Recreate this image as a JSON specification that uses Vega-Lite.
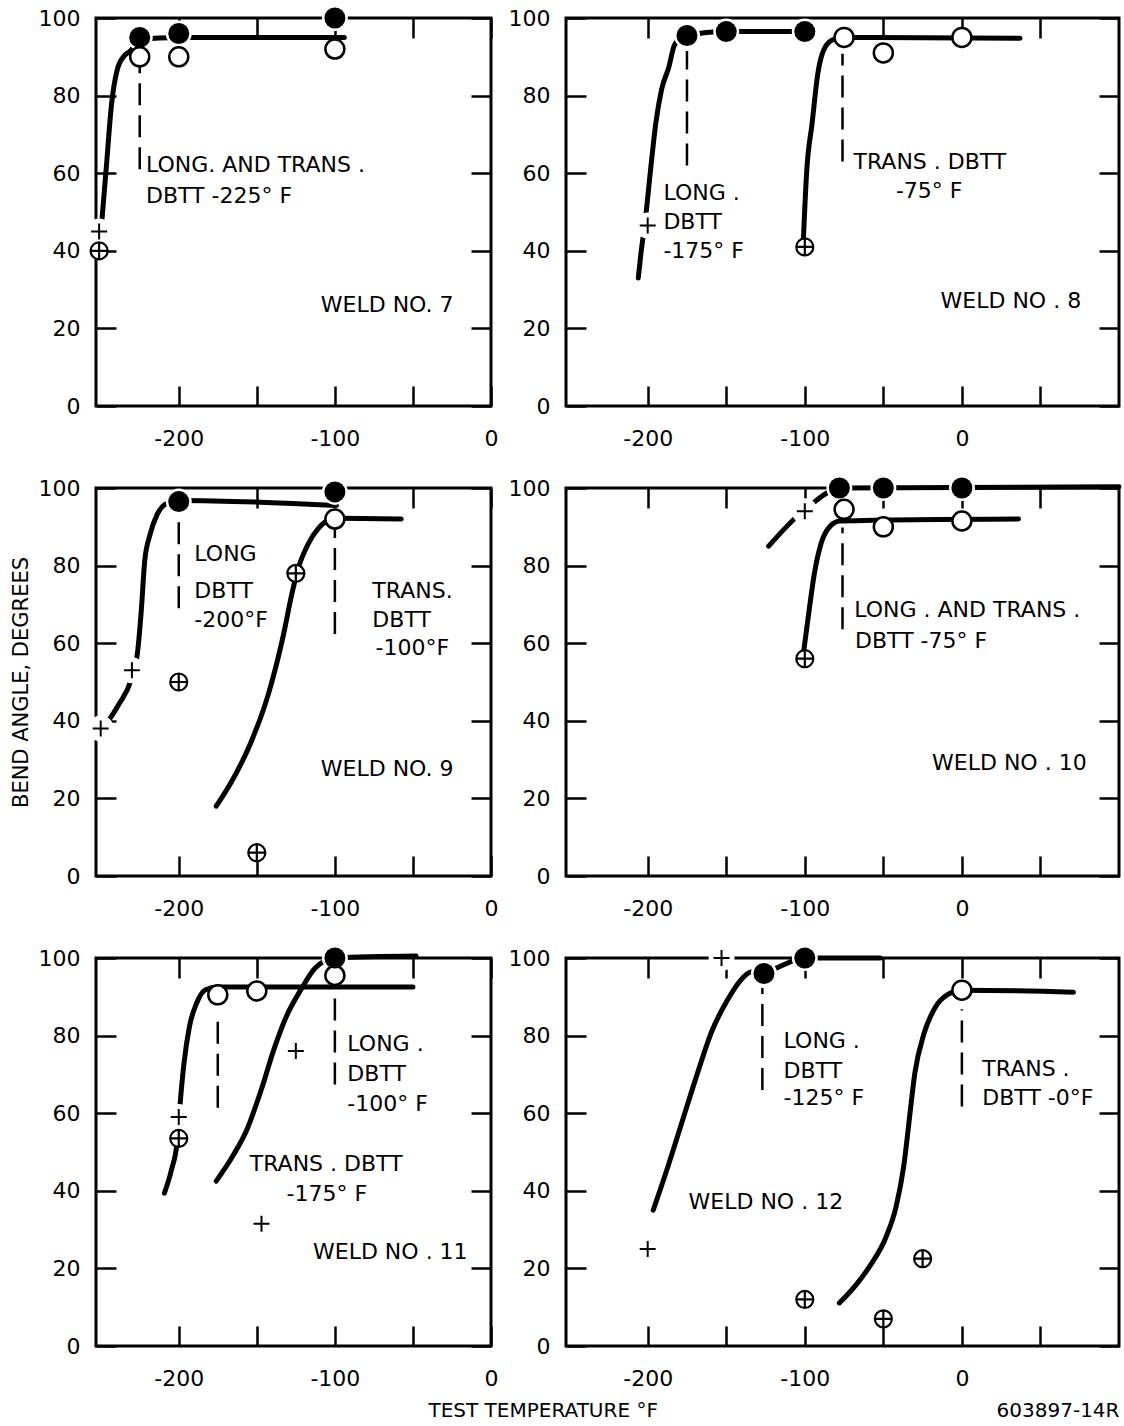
{
"$schema": "https://vega.github.io/schema/vega-lite/v6.json",
"padding": {"left": 8, "top": 3, "right": 0, "bottom": 0},
"config": {
 "view": {"stroke": "black", "strokeWidth": 3},
 "font": "DejaVu Sans",
 "axis": {"domain": false, "grid": false, "tickSize": -20, "tickWidth": 2.5, "tickColor": "black", "labelFont": "DejaVu Sans", "labelFontSize": 22, "labelColor": "black", "labelFlush": false, "labelOverlap": false, "titleFont": "DejaVu Sans", "titleFontSize": 21, "titleFontWeight": "normal", "titleColor": "black"},
 "axisBottom": {"labelPadding": 42},
 "axisLeft": {"labelPadding": 36}
},
"datasets": {
 "pts": [
  {"w":7,"k":"filled","t":-225,"a":95},{"w":7,"k":"filled","t":-200,"a":96},{"w":7,"k":"filled","t":-100,"a":100},
  {"w":7,"k":"open","t":-225,"a":90},{"w":7,"k":"open","t":-200,"a":90},{"w":7,"k":"open","t":-100,"a":92},
  {"w":7,"k":"plus","t":-251,"a":45},{"w":7,"k":"oplus","t":-251,"a":40},
  {"w":8,"k":"filled","t":-175,"a":95.5},{"w":8,"k":"filled","t":-150,"a":96.5},{"w":8,"k":"filled","t":-100,"a":96.5},
  {"w":8,"k":"open","t":-75,"a":95},{"w":8,"k":"open","t":-50,"a":91},{"w":8,"k":"open","t":0,"a":95},
  {"w":8,"k":"plus","t":-200,"a":46.5},{"w":8,"k":"oplus","t":-100,"a":41},
  {"w":9,"k":"filled","t":-200,"a":96.5},{"w":9,"k":"filled","t":-100,"a":99},
  {"w":9,"k":"open","t":-100,"a":92},
  {"w":9,"k":"plus","t":-250,"a":38},{"w":9,"k":"plus","t":-230,"a":53},
  {"w":9,"k":"oplus","t":-200,"a":50},{"w":9,"k":"oplus","t":-150,"a":6},{"w":9,"k":"oplus","t":-125,"a":78},
  {"w":10,"k":"filled","t":-78,"a":100},{"w":10,"k":"filled","t":-50,"a":100},{"w":10,"k":"filled","t":0,"a":100},
  {"w":10,"k":"open","t":-75,"a":94.5},{"w":10,"k":"open","t":-50,"a":90},{"w":10,"k":"open","t":0,"a":91.5},
  {"w":10,"k":"plus","t":-100,"a":94},{"w":10,"k":"oplus","t":-100,"a":56},
  {"w":11,"k":"filled","t":-100,"a":100},
  {"w":11,"k":"open","t":-175,"a":90.5},{"w":11,"k":"open","t":-150,"a":91.5},{"w":11,"k":"open","t":-100,"a":95.5},
  {"w":11,"k":"plus","t":-200,"a":59},{"w":11,"k":"plus","t":-125,"a":76},{"w":11,"k":"plus","t":-147,"a":31.5},
  {"w":11,"k":"oplus","t":-200,"a":53.5},
  {"w":12,"k":"filled","t":-126,"a":96},{"w":12,"k":"filled","t":-100,"a":100},
  {"w":12,"k":"open","t":0,"a":91.7},
  {"w":12,"k":"plus","t":-153,"a":100},{"w":12,"k":"plus","t":-200,"a":25},
  {"w":12,"k":"oplus","t":-100,"a":12},{"w":12,"k":"oplus","t":-50,"a":7},{"w":12,"k":"oplus","t":-25,"a":22.5}
 ],
 "crv": [
  {"w":7,"c":"L","t":-249.5,"a":46.5},{"w":7,"c":"L","t":-246.5,"a":61},{"w":7,"c":"L","t":-243,"a":78},{"w":7,"c":"L","t":-239.5,"a":86.5},{"w":7,"c":"L","t":-235,"a":90.2},{"w":7,"c":"L","t":-231,"a":91.5},{"w":7,"c":"L","t":-225,"a":94.5},{"w":7,"c":"L","t":-200,"a":95},{"w":7,"c":"L","t":-94,"a":95},
  {"w":8,"c":"L","t":-206,"a":33},{"w":8,"c":"L","t":-204.3,"a":39.3},{"w":8,"c":"L","t":-201.5,"a":48},{"w":8,"c":"L","t":-198.3,"a":60.4},{"w":8,"c":"L","t":-194.8,"a":73},{"w":8,"c":"L","t":-191.2,"a":81.5},{"w":8,"c":"L","t":-186.5,"a":87.4},{"w":8,"c":"L","t":-183,"a":93},{"w":8,"c":"L","t":-178,"a":95},{"w":8,"c":"L","t":-175,"a":95.5},{"w":8,"c":"L","t":-150,"a":96.5},{"w":8,"c":"L","t":-100,"a":96.5},
  {"w":8,"c":"T","t":-101,"a":42},{"w":8,"c":"T","t":-98.8,"a":60.4},{"w":8,"c":"T","t":-95.3,"a":73},{"w":8,"c":"T","t":-91.7,"a":85.7},{"w":8,"c":"T","t":-87,"a":92.5},{"w":8,"c":"T","t":-81,"a":94.6},{"w":8,"c":"T","t":-75,"a":95},{"w":8,"c":"T","t":37,"a":94.8},
  {"w":9,"c":"L","t":-250,"a":37.8},{"w":9,"c":"L","t":-246,"a":39.5},{"w":9,"c":"L","t":-238,"a":44.5},{"w":9,"c":"L","t":-231,"a":50},{"w":9,"c":"L","t":-226.5,"a":57.3},{"w":9,"c":"L","t":-224,"a":68.4},{"w":9,"c":"L","t":-221.8,"a":81.2},{"w":9,"c":"L","t":-218.4,"a":88},{"w":9,"c":"L","t":-213.8,"a":93.2},{"w":9,"c":"L","t":-209,"a":95.7},{"w":9,"c":"L","t":-200,"a":96.8},{"w":9,"c":"L","t":-99,"a":95.5},
  {"w":9,"c":"T","t":-176,"a":18},{"w":9,"c":"T","t":-165.5,"a":24.8},{"w":9,"c":"T","t":-154,"a":34.2},{"w":9,"c":"T","t":-142.5,"a":47},{"w":9,"c":"T","t":-133.3,"a":61.5},{"w":9,"c":"T","t":-127.6,"a":72.6},{"w":9,"c":"T","t":-124,"a":78.6},{"w":9,"c":"T","t":-117.2,"a":85.5},{"w":9,"c":"T","t":-110.3,"a":89.7},{"w":9,"c":"T","t":-103.4,"a":91.9},{"w":9,"c":"T","t":-100,"a":92.2},{"w":9,"c":"T","t":-57.5,"a":92},
  {"w":10,"c":"L","t":-123,"a":85},{"w":10,"c":"L","t":-105.7,"a":92.4},{"w":10,"c":"L","t":-96.5,"a":95.5},{"w":10,"c":"L","t":-86,"a":98.7},{"w":10,"c":"L","t":-78,"a":100},{"w":10,"c":"L","t":100,"a":100.3},
  {"w":10,"c":"T","t":-101,"a":57},{"w":10,"c":"T","t":-97.6,"a":67.4},{"w":10,"c":"T","t":-94.1,"a":77.5},{"w":10,"c":"T","t":-89.4,"a":86},{"w":10,"c":"T","t":-83.5,"a":90.3},{"w":10,"c":"T","t":-77.6,"a":91.5},{"w":10,"c":"T","t":36,"a":92},
  {"w":11,"c":"T","t":-209.2,"a":39.4},{"w":11,"c":"T","t":-204.6,"a":45.5},{"w":11,"c":"T","t":-201.1,"a":52.4},{"w":11,"c":"T","t":-198.9,"a":63.5},{"w":11,"c":"T","t":-196.6,"a":73},{"w":11,"c":"T","t":-193.1,"a":82.4},{"w":11,"c":"T","t":-188.5,"a":88.4},{"w":11,"c":"T","t":-182.8,"a":91.8},{"w":11,"c":"T","t":-175,"a":92.5},{"w":11,"c":"T","t":-50,"a":92.5},
  {"w":11,"c":"L","t":-176,"a":42.5},{"w":11,"c":"L","t":-165.5,"a":48.9},{"w":11,"c":"L","t":-156.3,"a":55.8},{"w":11,"c":"L","t":-147.1,"a":66.1},{"w":11,"c":"L","t":-139.1,"a":76.4},{"w":11,"c":"L","t":-131,"a":85},{"w":11,"c":"L","t":-121.8,"a":91.8},{"w":11,"c":"L","t":-112.6,"a":97.4},{"w":11,"c":"L","t":-100,"a":100},{"w":11,"c":"L","t":-48,"a":100.5},
  {"w":12,"c":"L","t":-196.5,"a":35},{"w":12,"c":"L","t":-187,"a":46.4},{"w":12,"c":"L","t":-177.7,"a":58.3},{"w":12,"c":"L","t":-168.4,"a":70.2},{"w":12,"c":"L","t":-159,"a":81.3},{"w":12,"c":"L","t":-149.6,"a":88.9},{"w":12,"c":"L","t":-141.4,"a":94},{"w":12,"c":"L","t":-134.3,"a":96.4},{"w":12,"c":"L","t":-126,"a":96.5},{"w":12,"c":"L","t":-100,"a":100},{"w":12,"c":"L","t":-52,"a":100},
  {"w":12,"c":"T","t":-78,"a":11.1},{"w":12,"c":"T","t":-67.5,"a":15.7},{"w":12,"c":"T","t":-58.1,"a":20.9},{"w":12,"c":"T","t":-48.7,"a":27.7},{"w":12,"c":"T","t":-41.7,"a":36.2},{"w":12,"c":"T","t":-37,"a":46.4},{"w":12,"c":"T","t":-33.5,"a":58.3},{"w":12,"c":"T","t":-30,"a":70.2},{"w":12,"c":"T","t":-24.2,"a":80.4},{"w":12,"c":"T","t":-17.1,"a":87.2},{"w":12,"c":"T","t":-8.9,"a":90.6},{"w":12,"c":"T","t":0,"a":91.7},{"w":12,"c":"T","t":71,"a":91.2}
 ],
 "dbtt": [
  {"w":7,"t":-225,"a":61,"a2":88},
  {"w":8,"t":-175,"a":62,"a2":91.5},{"w":8,"t":-76,"a":63,"a2":90.8},
  {"w":9,"t":-200,"a":69,"a2":94},{"w":9,"t":-100,"a":62.4,"a2":89.7},
  {"w":10,"t":-76,"a":63.6,"a2":89.8},
  {"w":11,"t":-175,"a":61.4,"a2":85.8},{"w":11,"t":-100,"a":67.4,"a2":91},
  {"w":12,"t":-127,"a":66,"a2":92.3},{"w":12,"t":0,"a":61.7,"a2":86.8}
 ],
 "lbl": [
  {"w":7,"t":-221,"a":62,"s":"LONG. AND TRANS ."},{"w":7,"t":-221,"a":54,"s":"DBTT  -225° F"},{"w":7,"t":-109,"a":26,"s":"WELD NO. 7"},
  {"w":8,"t":-190,"a":55,"s":"LONG ."},{"w":8,"t":-190,"a":47.5,"s":"DBTT"},{"w":8,"t":-190,"a":40,"s":"-175° F"},{"w":8,"t":-69,"a":63,"s":"TRANS . DBTT"},{"w":8,"t":-42,"a":55.5,"s":"-75° F"},{"w":8,"t":-13.6,"a":27,"s":"WELD NO . 8"},
  {"w":9,"t":-190,"a":83,"s":"LONG"},{"w":9,"t":-190,"a":73.5,"s":"DBTT"},{"w":9,"t":-190,"a":66,"s":"-200°F"},{"w":9,"t":-76,"a":73.5,"s":"TRANS."},{"w":9,"t":-76,"a":66,"s":"DBTT"},{"w":9,"t":-74,"a":58.7,"s":"-100°F"},{"w":9,"t":-109,"a":27.6,"s":"WELD NO. 9"},
  {"w":10,"t":-68.5,"a":68.5,"s":"LONG . AND TRANS ."},{"w":10,"t":-68,"a":60.5,"s":"DBTT -75° F"},{"w":10,"t":-19,"a":29,"s":"WELD NO . 10"},
  {"w":11,"t":-92,"a":77.8,"s":"LONG ."},{"w":11,"t":-92,"a":70,"s":"DBTT"},{"w":11,"t":-92,"a":62.3,"s":"-100° F"},{"w":11,"t":-154.5,"a":47,"s":"TRANS . DBTT"},{"w":11,"t":-131,"a":39.3,"s":"-175° F"},{"w":11,"t":-114,"a":24.3,"s":"WELD NO . 11"},
  {"w":12,"t":-113.5,"a":78.5,"s":"LONG ."},{"w":12,"t":-113.5,"a":71,"s":"DBTT"},{"w":12,"t":-113.5,"a":63.8,"s":"-125° F"},{"w":12,"t":13,"a":71.5,"s":"TRANS ."},{"w":12,"t":13,"a":63.8,"s":"DBTT -0°F"},{"w":12,"t":-174,"a":37,"s":"WELD NO . 12"}
 ]
},
"bounds": "flush",
"columns": 2,
"spacing": {"row": 82, "column": 75},
"concat": [
 {"width": 395, "height": 388,
  "encoding": {"x": {"field":"t","type":"quantitative","scale":{"domain":[-253,0],"nice":false,"zero":false},"axis":null},
               "y": {"field":"a","type":"quantitative","scale":{"domain":[0,100],"nice":false,"zero":false},"axis":null}},
  "layer": [
   {"data":{"name":"crv"},"transform":[{"filter":"datum.w==7"}],
    "mark":{"type":"line","color":"black","strokeWidth":5,"strokeCap":"round","strokeJoin":"round","interpolate":"monotone"},
    "encoding":{"x":{"field":"t","type":"quantitative","scale":{"domain":[-253,0],"nice":false,"zero":false},"axis":{"orient":"bottom","values":[-200,-150,-100,-50,0],"labelExpr":"datum.value % 100 == 0 ? '' + datum.value : ''","title":null}},
                "y":{"field":"a","type":"quantitative","scale":{"domain":[0,100],"nice":false,"zero":false},"axis":{"orient":"left","values":[0,20,40,60,80,100],"title":null}},
                "detail":{"field":"c"}}},
   {"data":{"name":"dbtt"},"transform":[{"filter":"datum.w==7"}],
    "mark":{"type":"rule","color":"black","strokeWidth":2.5,"strokeDash":[22,10]},
    "encoding":{"x":{"field":"t","type":"quantitative","scale":{"domain":[-253,0],"nice":false,"zero":false},"axis":{"orient":"top","values":[-200,-150,-100,-50,0],"labels":false,"title":null}},
                "y":{"field":"a","type":"quantitative","scale":{"domain":[0,100],"nice":false,"zero":false},"axis":{"orient":"right","values":[0,20,40,60,80,100],"labels":false,"title":null}},
                "y2":{"field":"a2"}}},
   {"data":{"name":"pts"},"transform":[{"filter":"datum.w==7 && (datum.k=='filled' || datum.k=='plus')"}],"mark":{"type":"circle","size":676,"color":"white","opacity":1}},
   {"data":{"name":"pts"},"transform":[{"filter":"datum.w==7 && datum.k=='open'"}],"mark":{"type":"circle","size":361,"fill":"white","stroke":"black","strokeWidth":2.5,"opacity":1}},
   {"data":{"name":"pts"},"transform":[{"filter":"datum.w==7 && datum.k=='filled'"}],"mark":{"type":"circle","size":441,"color":"black","opacity":1}},
   {"data":{"name":"pts"},"transform":[{"filter":"datum.w==7 && datum.k=='plus'"}],"mark":{"type":"point","shape":"M-1,0L1,0M0,-1L0,1","size":256,"filled":false,"stroke":"black","strokeWidth":2,"opacity":1}},
   {"data":{"name":"pts"},"transform":[{"filter":"datum.w==7 && datum.k=='oplus'"}],"mark":{"type":"point","shape":"M-1,0A1,1,0,1,0,1,0A1,1,0,1,0,-1,0M-1,0L1,0M0,-1L0,1","size":289,"filled":false,"fill":"white","stroke":"black","strokeWidth":2.2,"opacity":1}},
   {"data":{"name":"lbl"},"transform":[{"filter":"datum.w==7"}],"mark":{"type":"text","align":"left","baseline":"middle","font":"DejaVu Sans","fontSize":22,"color":"black"},"encoding":{"text":{"field":"s"}}}
  ],
  "resolve":{"axis":{"x":"independent","y":"independent"}}},
 {"width": 553, "height": 388,
  "encoding": {"x": {"field":"t","type":"quantitative","scale":{"domain":[-252,100],"nice":false,"zero":false},"axis":null},
               "y": {"field":"a","type":"quantitative","scale":{"domain":[0,100],"nice":false,"zero":false},"axis":null}},
  "layer": [
   {"data":{"name":"crv"},"transform":[{"filter":"datum.w==8"}],
    "mark":{"type":"line","color":"black","strokeWidth":5,"strokeCap":"round","strokeJoin":"round","interpolate":"monotone"},
    "encoding":{"x":{"field":"t","type":"quantitative","scale":{"domain":[-252,100],"nice":false,"zero":false},"axis":{"orient":"bottom","values":[-200,-150,-100,-50,0,50],"labelExpr":"datum.value % 100 == 0 ? '' + datum.value : ''","title":null}},
                "y":{"field":"a","type":"quantitative","scale":{"domain":[0,100],"nice":false,"zero":false},"axis":{"orient":"left","values":[0,20,40,60,80,100],"title":null}},
                "detail":{"field":"c"}}},
   {"data":{"name":"dbtt"},"transform":[{"filter":"datum.w==8"}],
    "mark":{"type":"rule","color":"black","strokeWidth":2.5,"strokeDash":[22,10]},
    "encoding":{"x":{"field":"t","type":"quantitative","scale":{"domain":[-252,100],"nice":false,"zero":false},"axis":{"orient":"top","values":[-200,-150,-100,-50,0,50],"labels":false,"title":null}},
                "y":{"field":"a","type":"quantitative","scale":{"domain":[0,100],"nice":false,"zero":false},"axis":{"orient":"right","values":[0,20,40,60,80,100],"labels":false,"title":null}},
                "y2":{"field":"a2"}}},
   {"data":{"name":"pts"},"transform":[{"filter":"datum.w==8 && (datum.k=='filled' || datum.k=='plus')"}],"mark":{"type":"circle","size":676,"color":"white","opacity":1}},
   {"data":{"name":"pts"},"transform":[{"filter":"datum.w==8 && datum.k=='open'"}],"mark":{"type":"circle","size":361,"fill":"white","stroke":"black","strokeWidth":2.5,"opacity":1}},
   {"data":{"name":"pts"},"transform":[{"filter":"datum.w==8 && datum.k=='filled'"}],"mark":{"type":"circle","size":441,"color":"black","opacity":1}},
   {"data":{"name":"pts"},"transform":[{"filter":"datum.w==8 && datum.k=='plus'"}],"mark":{"type":"point","shape":"M-1,0L1,0M0,-1L0,1","size":256,"filled":false,"stroke":"black","strokeWidth":2,"opacity":1}},
   {"data":{"name":"pts"},"transform":[{"filter":"datum.w==8 && datum.k=='oplus'"}],"mark":{"type":"point","shape":"M-1,0A1,1,0,1,0,1,0A1,1,0,1,0,-1,0M-1,0L1,0M0,-1L0,1","size":289,"filled":false,"fill":"white","stroke":"black","strokeWidth":2.2,"opacity":1}},
   {"data":{"name":"lbl"},"transform":[{"filter":"datum.w==8"}],"mark":{"type":"text","align":"left","baseline":"middle","font":"DejaVu Sans","fontSize":22,"color":"black"},"encoding":{"text":{"field":"s"}}}
  ],
  "resolve":{"axis":{"x":"independent","y":"independent"}}},
 {"width": 395, "height": 388,
  "encoding": {"x": {"field":"t","type":"quantitative","scale":{"domain":[-253,0],"nice":false,"zero":false},"axis":null},
               "y": {"field":"a","type":"quantitative","scale":{"domain":[0,100],"nice":false,"zero":false},"axis":null}},
  "layer": [
   {"data":{"name":"crv"},"transform":[{"filter":"datum.w==9"}],
    "mark":{"type":"line","color":"black","strokeWidth":5,"strokeCap":"round","strokeJoin":"round","interpolate":"monotone"},
    "encoding":{"x":{"field":"t","type":"quantitative","scale":{"domain":[-253,0],"nice":false,"zero":false},"axis":{"orient":"bottom","values":[-200,-150,-100,-50,0],"labelExpr":"datum.value % 100 == 0 ? '' + datum.value : ''","title":null}},
                "y":{"field":"a","type":"quantitative","scale":{"domain":[0,100],"nice":false,"zero":false},"axis":{"orient":"left","values":[0,20,40,60,80,100],"title":"BEND ANGLE, DEGREES","titlePadding":7}},
                "detail":{"field":"c"}}},
   {"data":{"name":"dbtt"},"transform":[{"filter":"datum.w==9"}],
    "mark":{"type":"rule","color":"black","strokeWidth":2.5,"strokeDash":[22,10]},
    "encoding":{"x":{"field":"t","type":"quantitative","scale":{"domain":[-253,0],"nice":false,"zero":false},"axis":{"orient":"top","values":[-200,-150,-100,-50,0],"labels":false,"title":null}},
                "y":{"field":"a","type":"quantitative","scale":{"domain":[0,100],"nice":false,"zero":false},"axis":{"orient":"right","values":[0,20,40,60,80,100],"labels":false,"title":null}},
                "y2":{"field":"a2"}}},
   {"data":{"name":"pts"},"transform":[{"filter":"datum.w==9 && (datum.k=='filled' || datum.k=='plus')"}],"mark":{"type":"circle","size":676,"color":"white","opacity":1}},
   {"data":{"name":"pts"},"transform":[{"filter":"datum.w==9 && datum.k=='open'"}],"mark":{"type":"circle","size":361,"fill":"white","stroke":"black","strokeWidth":2.5,"opacity":1}},
   {"data":{"name":"pts"},"transform":[{"filter":"datum.w==9 && datum.k=='filled'"}],"mark":{"type":"circle","size":441,"color":"black","opacity":1}},
   {"data":{"name":"pts"},"transform":[{"filter":"datum.w==9 && datum.k=='plus'"}],"mark":{"type":"point","shape":"M-1,0L1,0M0,-1L0,1","size":256,"filled":false,"stroke":"black","strokeWidth":2,"opacity":1}},
   {"data":{"name":"pts"},"transform":[{"filter":"datum.w==9 && datum.k=='oplus'"}],"mark":{"type":"point","shape":"M-1,0A1,1,0,1,0,1,0A1,1,0,1,0,-1,0M-1,0L1,0M0,-1L0,1","size":289,"filled":false,"fill":"white","stroke":"black","strokeWidth":2.2,"opacity":1}},
   {"data":{"name":"lbl"},"transform":[{"filter":"datum.w==9"}],"mark":{"type":"text","align":"left","baseline":"middle","font":"DejaVu Sans","fontSize":22,"color":"black"},"encoding":{"text":{"field":"s"}}}
  ],
  "resolve":{"axis":{"x":"independent","y":"independent"}}},
 {"width": 553, "height": 388,
  "encoding": {"x": {"field":"t","type":"quantitative","scale":{"domain":[-252,100],"nice":false,"zero":false},"axis":null},
               "y": {"field":"a","type":"quantitative","scale":{"domain":[0,100],"nice":false,"zero":false},"axis":null}},
  "layer": [
   {"data":{"name":"crv"},"transform":[{"filter":"datum.w==10"}],
    "mark":{"type":"line","color":"black","strokeWidth":5,"strokeCap":"round","strokeJoin":"round","interpolate":"monotone"},
    "encoding":{"x":{"field":"t","type":"quantitative","scale":{"domain":[-252,100],"nice":false,"zero":false},"axis":{"orient":"bottom","values":[-200,-150,-100,-50,0,50],"labelExpr":"datum.value % 100 == 0 ? '' + datum.value : ''","title":null}},
                "y":{"field":"a","type":"quantitative","scale":{"domain":[0,100],"nice":false,"zero":false},"axis":{"orient":"left","values":[0,20,40,60,80,100],"title":null}},
                "detail":{"field":"c"}}},
   {"data":{"name":"dbtt"},"transform":[{"filter":"datum.w==10"}],
    "mark":{"type":"rule","color":"black","strokeWidth":2.5,"strokeDash":[22,10]},
    "encoding":{"x":{"field":"t","type":"quantitative","scale":{"domain":[-252,100],"nice":false,"zero":false},"axis":{"orient":"top","values":[-200,-150,-100,-50,0,50],"labels":false,"title":null}},
                "y":{"field":"a","type":"quantitative","scale":{"domain":[0,100],"nice":false,"zero":false},"axis":{"orient":"right","values":[0,20,40,60,80,100],"labels":false,"title":null}},
                "y2":{"field":"a2"}}},
   {"data":{"name":"pts"},"transform":[{"filter":"datum.w==10 && (datum.k=='filled' || datum.k=='plus')"}],"mark":{"type":"circle","size":676,"color":"white","opacity":1}},
   {"data":{"name":"pts"},"transform":[{"filter":"datum.w==10 && datum.k=='open'"}],"mark":{"type":"circle","size":361,"fill":"white","stroke":"black","strokeWidth":2.5,"opacity":1}},
   {"data":{"name":"pts"},"transform":[{"filter":"datum.w==10 && datum.k=='filled'"}],"mark":{"type":"circle","size":441,"color":"black","opacity":1}},
   {"data":{"name":"pts"},"transform":[{"filter":"datum.w==10 && datum.k=='plus'"}],"mark":{"type":"point","shape":"M-1,0L1,0M0,-1L0,1","size":256,"filled":false,"stroke":"black","strokeWidth":2,"opacity":1}},
   {"data":{"name":"pts"},"transform":[{"filter":"datum.w==10 && datum.k=='oplus'"}],"mark":{"type":"point","shape":"M-1,0A1,1,0,1,0,1,0A1,1,0,1,0,-1,0M-1,0L1,0M0,-1L0,1","size":289,"filled":false,"fill":"white","stroke":"black","strokeWidth":2.2,"opacity":1}},
   {"data":{"name":"lbl"},"transform":[{"filter":"datum.w==10"}],"mark":{"type":"text","align":"left","baseline":"middle","font":"DejaVu Sans","fontSize":22,"color":"black"},"encoding":{"text":{"field":"s"}}}
  ],
  "resolve":{"axis":{"x":"independent","y":"independent"}}},
 {"width": 395, "height": 388,
  "encoding": {"x": {"field":"t","type":"quantitative","scale":{"domain":[-253,0],"nice":false,"zero":false},"axis":null},
               "y": {"field":"a","type":"quantitative","scale":{"domain":[0,100],"nice":false,"zero":false},"axis":null}},
  "layer": [
   {"data":{"name":"crv"},"transform":[{"filter":"datum.w==11"}],
    "mark":{"type":"line","color":"black","strokeWidth":5,"strokeCap":"round","strokeJoin":"round","interpolate":"monotone"},
    "encoding":{"x":{"field":"t","type":"quantitative","scale":{"domain":[-253,0],"nice":false,"zero":false},"axis":{"orient":"bottom","values":[-200,-150,-100,-50,0],"labelExpr":"datum.value % 100 == 0 ? '' + datum.value : ''","title":"TEST TEMPERATURE °F","titleX":332,"titleAlign":"left","titlePadding":11,"titleFontSize":20}},
                "y":{"field":"a","type":"quantitative","scale":{"domain":[0,100],"nice":false,"zero":false},"axis":{"orient":"left","values":[0,20,40,60,80,100],"title":null}},
                "detail":{"field":"c"}}},
   {"data":{"name":"dbtt"},"transform":[{"filter":"datum.w==11"}],
    "mark":{"type":"rule","color":"black","strokeWidth":2.5,"strokeDash":[22,10]},
    "encoding":{"x":{"field":"t","type":"quantitative","scale":{"domain":[-253,0],"nice":false,"zero":false},"axis":{"orient":"top","values":[-200,-150,-100,-50,0],"labels":false,"title":null}},
                "y":{"field":"a","type":"quantitative","scale":{"domain":[0,100],"nice":false,"zero":false},"axis":{"orient":"right","values":[0,20,40,60,80,100],"labels":false,"title":null}},
                "y2":{"field":"a2"}}},
   {"data":{"name":"pts"},"transform":[{"filter":"datum.w==11 && (datum.k=='filled' || datum.k=='plus')"}],"mark":{"type":"circle","size":676,"color":"white","opacity":1}},
   {"data":{"name":"pts"},"transform":[{"filter":"datum.w==11 && datum.k=='open'"}],"mark":{"type":"circle","size":361,"fill":"white","stroke":"black","strokeWidth":2.5,"opacity":1}},
   {"data":{"name":"pts"},"transform":[{"filter":"datum.w==11 && datum.k=='filled'"}],"mark":{"type":"circle","size":441,"color":"black","opacity":1}},
   {"data":{"name":"pts"},"transform":[{"filter":"datum.w==11 && datum.k=='plus'"}],"mark":{"type":"point","shape":"M-1,0L1,0M0,-1L0,1","size":256,"filled":false,"stroke":"black","strokeWidth":2,"opacity":1}},
   {"data":{"name":"pts"},"transform":[{"filter":"datum.w==11 && datum.k=='oplus'"}],"mark":{"type":"point","shape":"M-1,0A1,1,0,1,0,1,0A1,1,0,1,0,-1,0M-1,0L1,0M0,-1L0,1","size":289,"filled":false,"fill":"white","stroke":"black","strokeWidth":2.2,"opacity":1}},
   {"data":{"name":"lbl"},"transform":[{"filter":"datum.w==11"}],"mark":{"type":"text","align":"left","baseline":"middle","font":"DejaVu Sans","fontSize":22,"color":"black"},"encoding":{"text":{"field":"s"}}}
  ],
  "resolve":{"axis":{"x":"independent","y":"independent"}}},
 {"width": 553, "height": 388,
  "encoding": {"x": {"field":"t","type":"quantitative","scale":{"domain":[-252,100],"nice":false,"zero":false},"axis":null},
               "y": {"field":"a","type":"quantitative","scale":{"domain":[0,100],"nice":false,"zero":false},"axis":null}},
  "layer": [
   {"data":{"name":"crv"},"transform":[{"filter":"datum.w==12"}],
    "mark":{"type":"line","color":"black","strokeWidth":5,"strokeCap":"round","strokeJoin":"round","interpolate":"monotone"},
    "encoding":{"x":{"field":"t","type":"quantitative","scale":{"domain":[-252,100],"nice":false,"zero":false},"axis":{"orient":"bottom","values":[-200,-150,-100,-50,0,50],"labelExpr":"datum.value % 100 == 0 ? '' + datum.value : ''","title":"603897-14R","titleAnchor":"end","titlePadding":11,"titleFontSize":20}},
                "y":{"field":"a","type":"quantitative","scale":{"domain":[0,100],"nice":false,"zero":false},"axis":{"orient":"left","values":[0,20,40,60,80,100],"title":null}},
                "detail":{"field":"c"}}},
   {"data":{"name":"dbtt"},"transform":[{"filter":"datum.w==12"}],
    "mark":{"type":"rule","color":"black","strokeWidth":2.5,"strokeDash":[22,10]},
    "encoding":{"x":{"field":"t","type":"quantitative","scale":{"domain":[-252,100],"nice":false,"zero":false},"axis":{"orient":"top","values":[-200,-150,-100,-50,0,50],"labels":false,"title":null}},
                "y":{"field":"a","type":"quantitative","scale":{"domain":[0,100],"nice":false,"zero":false},"axis":{"orient":"right","values":[0,20,40,60,80,100],"labels":false,"title":null}},
                "y2":{"field":"a2"}}},
   {"data":{"name":"pts"},"transform":[{"filter":"datum.w==12 && (datum.k=='filled' || datum.k=='plus')"}],"mark":{"type":"circle","size":676,"color":"white","opacity":1}},
   {"data":{"name":"pts"},"transform":[{"filter":"datum.w==12 && datum.k=='open'"}],"mark":{"type":"circle","size":361,"fill":"white","stroke":"black","strokeWidth":2.5,"opacity":1}},
   {"data":{"name":"pts"},"transform":[{"filter":"datum.w==12 && datum.k=='filled'"}],"mark":{"type":"circle","size":441,"color":"black","opacity":1}},
   {"data":{"name":"pts"},"transform":[{"filter":"datum.w==12 && datum.k=='plus'"}],"mark":{"type":"point","shape":"M-1,0L1,0M0,-1L0,1","size":256,"filled":false,"stroke":"black","strokeWidth":2,"opacity":1}},
   {"data":{"name":"pts"},"transform":[{"filter":"datum.w==12 && datum.k=='oplus'"}],"mark":{"type":"point","shape":"M-1,0A1,1,0,1,0,1,0A1,1,0,1,0,-1,0M-1,0L1,0M0,-1L0,1","size":289,"filled":false,"fill":"white","stroke":"black","strokeWidth":2.2,"opacity":1}},
   {"data":{"name":"lbl"},"transform":[{"filter":"datum.w==12"}],"mark":{"type":"text","align":"left","baseline":"middle","font":"DejaVu Sans","fontSize":22,"color":"black"},"encoding":{"text":{"field":"s"}}}
  ],
  "resolve":{"axis":{"x":"independent","y":"independent"}}}
]
}
